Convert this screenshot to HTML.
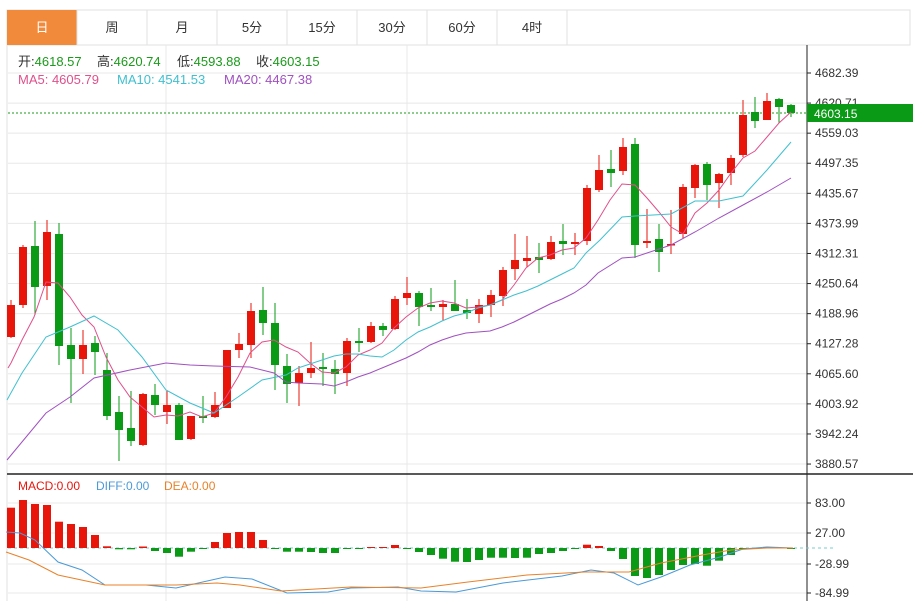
<!DOCTYPE html>
<html><head><meta charset="utf-8"><style>
body{margin:0;background:#fff;width:913px;height:601px;overflow:hidden;font-family:"Liberation Sans","Noto Sans CJK SC",sans-serif}
svg{position:absolute;left:0;top:0}
</style></head><body>
<svg id="s" width="913" height="601" xmlns="http://www.w3.org/2000/svg" font-family="Liberation Sans, Noto Sans CJK SC, sans-serif">
<rect x="7" y="10" width="903" height="35" fill="#fff" stroke="#e2e2e2"/>
<rect x="7" y="10" width="70" height="35" fill="#f28a3c"/>
<g stroke="#e2e2e2"><line x1="147" y1="10" x2="147" y2="45"/><line x1="217" y1="10" x2="217" y2="45"/><line x1="287" y1="10" x2="287" y2="45"/><line x1="357" y1="10" x2="357" y2="45"/><line x1="427" y1="10" x2="427" y2="45"/><line x1="497" y1="10" x2="497" y2="45"/><line x1="567" y1="10" x2="567" y2="45"/><line x1="77" y1="10" x2="77" y2="45"/></g>
<g font-size="13" text-anchor="middle" fill="#333"><text x="42" y="32" fill="#fff">日</text><text x="112" y="32">周</text><text x="182" y="32">月</text><text x="252" y="32">5分</text><text x="322" y="32">15分</text><text x="392" y="32">30分</text><text x="462" y="32">60分</text><text x="532" y="32">4时</text></g>
<line x1="7" y1="45" x2="7" y2="601" stroke="#e2e2e2"/>
<g id="grid" stroke="#e8e8e8"></g>
<g stroke="#e8e8e8"><line x1="166" y1="45" x2="166" y2="601"/><line x1="407" y1="45" x2="407" y2="601"/></g>
<g font-size="13" fill="#333">
<text x="18" y="66">开:<tspan fill="#1a9a1a">4618.57</tspan></text>
<text x="97" y="66">高:<tspan fill="#1a9a1a">4620.74</tspan></text>
<text x="177" y="66">低:<tspan fill="#1a9a1a">4593.88</tspan></text>
<text x="256" y="66">收:<tspan fill="#1a9a1a">4603.15</tspan></text>
<text x="18" y="84" fill="#e0508a">MA5: 4605.79</text>
<text x="117" y="84" fill="#3fc0d0">MA10: 4541.53</text>
<text x="224" y="84" fill="#a050c0">MA20: 4467.38</text></g>
<line x1="807" y1="45" x2="807" y2="601" stroke="#222"/>
<line x1="7" y1="474" x2="913" y2="474" stroke="#222" stroke-width="1.5"/>
<g id="labels" font-size="12" fill="#333"></g>
<line x1="8" y1="113" x2="807" y2="113" stroke="#1a9a1a" stroke-dasharray="2,2"/>
<g id="c"></g>
<g id="ma" fill="none" stroke-width="1"></g>
<rect x="807" y="104" width="106" height="18" fill="#0a9a15"/>
<text x="814" y="118" font-size="12" fill="#fff">4603.15</text>
<g font-size="12"><text x="18" y="490" fill="#e8150b">MACD:0.00</text><text x="96" y="490" fill="#4a9ad8">DIFF:0.00</text><text x="164" y="490" fill="#e8822a">DEA:0.00</text></g>
<line x1="8" y1="548" x2="835" y2="548" stroke="#7cc" stroke-dasharray="3,3"/>
<g id="m"></g>
</svg>
<script>
var NS="http://www.w3.org/2000/svg";
function el(p,t,a){var e=document.createElementNS(NS,t);for(var k in a)e.setAttribute(k,a[k]);document.getElementById(p).appendChild(e);return e;}
var lv=["4682.39","4620.71","4559.03","4497.35","4435.67","4373.99","4312.31","4250.64","4188.96","4127.28","4065.60","4003.92","3942.24","3880.57"];
lv.forEach(function(v,i){var y=73+i*30.08;el("grid","line",{x1:8,y1:y,x2:807,y2:y});el("grid","line",{x1:807,y1:y,x2:811,y2:y,stroke:"#222"});var t=el("labels","text",{x:815,y:y+4});t.textContent=v;});
[[503,"83.00"],[533,"27.00"],[564,"-28.99"],[593,"-84.99"]].forEach(function(a){el("grid","line",{x1:8,y1:a[0],x2:807,y2:a[0]});el("grid","line",{x1:807,y1:a[0],x2:811,y2:a[0],stroke:"#222"});var t=el("labels","text",{x:815,y:a[0]+4});t.textContent=a[1];});
var C=[["r",305,337,300,338],["r",247,305,245,308],["g",246,287,221,315],["r",232,286,220,300],["g",234,346,223,365],["g",345,359,328,403],["r",345,359,330,374],["g",343,352,336,375],["g",370,416,353,420],["g",412,430,396,461],["g",428,441,391,446],["r",394,445,393,446],["g",395,405,384,415],["r",405,412,391,424],["g",405,440,403,440],["r",416,439,416,440],["g",416,418,396,423],["r",405,417,392,418],["r",350,408,350,408],["r",344,350,333,358],["r",311,345,303,358],["g",310,323,287,335],["g",323,365,303,390],["g",366,384,354,403],["r",373,383,366,406],
["r",368,373,342,378],["g",367,369,353,386],["g",369,374,360,394],["r",341,373,338,386],["g",341,343,328,352],["r",326,342,322,343],["g",326,330,323,336],["r",299,329,296,330],["r",293,298,277,305],["g",293,307,291,326],["g",305,307,288,311],["r",304,307,300,321],["g",304,311,280,311],["g",310,313,299,319],["r",305,314,299,323],["r",295,305,290,317],["r",270,296,267,306],["r",260,269,234,280],["r",258,261,236,267],["g",257,260,243,273],["r",242,259,236,260],["g",241,244,224,255],["r",242,244,233,255],["r",188,241,185,245],["r",170,190,155,192],
["g",169,173,150,187],["r",147,171,138,175],["g",144,245,138,258],["r",241,243,209,248],["g",239,252,224,272],["r",244,245,210,254],["r",187,234,184,238],["r",165,188,164,198],["g",164,185,162,200],["r",174,183,173,208],["r",158,173,155,185],["r",115,155,100,157],["g",112,121,97,128],["r",101,120,93,120],["g",99,107,98,123],["g",105,113,104,117]];
C.forEach(function(c,i){var x=11+12*i,col=c[0]=="r"?"#e8150b":"#0a9a15";el("c","line",{x1:x,y1:c[3],x2:x,y2:c[4],stroke:col});el("c","rect",{x:x-4,y:c[1],width:8,height:Math.max(1.5,c[2]-c[1]),fill:col});});
function pl(g,pts,col){el(g,"polyline",{points:pts.map(function(p){return p.join(",")}).join(" "),stroke:col,fill:"none"});}
pl("ma",[[8,368],[11,363],[22,340],[34,317],[46,282],[58,283],[70,297],[82,315],[94,327],[106,357],[118,380],[130,397],[142,407],[154,417],[166,415],[178,416],[190,412],[202,417],[214,413],[226,397],[238,377],[250,353],[262,342],[274,340],[286,347],[298,352],[310,363],[322,372],[334,373],[346,367],[358,355],[370,350],[382,343],[394,328],[406,317],[418,308],[430,303],[442,301],[454,303],[466,308],[478,307],[490,305],[502,300],[514,285],[526,268],[538,258],[550,255],[562,250],[574,248],[586,238],[598,220],[610,200],[622,184],[635,185],[647,198],[659,212],[671,227],[683,234],[695,213],[707,203],[719,190],[731,173],[743,158],[755,151],[767,137],[779,123],[791,112]],"#e0508a");
pl("ma",[[7,400],[22,373],[46,337],[70,327],[94,316],[118,330],[142,357],[166,390],[190,403],[214,413],[238,397],[262,380],[286,375],[298,368],[322,360],[334,356],[346,354],[358,354],[370,356],[382,357],[394,350],[406,340],[418,332],[430,327],[442,321],[454,316],[466,313],[478,308],[490,305],[502,300],[514,295],[526,291],[538,286],[550,280],[562,274],[574,268],[586,253],[600,240],[622,217],[635,216],[671,214],[695,201],[719,201],[743,196],[767,170],[791,142]],"#3fc0d0");
pl("ma",[[7,460],[46,413],[70,397],[94,378],[130,370],[166,363],[190,365],[214,366],[250,367],[274,373],[286,382],[298,383],[322,384],[334,386],[346,382],[358,377],[370,373],[382,368],[394,363],[406,358],[418,352],[430,345],[442,340],[454,336],[466,333],[478,332],[490,331],[502,327],[514,322],[526,316],[538,310],[550,304],[562,299],[574,293],[586,285],[598,273],[622,258],[635,257],[671,245],[695,232],[719,218],[743,205],[767,192],[791,178]],"#a050c0");
var M={0:507.7,1:500,2:504,3:505,4:521.7,5:524,6:527,7:535,8:546.3,9:549.3,10:549.3,11:546.5,12:551,13:553,14:556.7,15:551.7,16:549,17:542,18:533,19:532,20:532,21:540,22:548.6,23:551.7,24:551.7,25:552,26:553,27:553,28:549,29:549,30:547,31:547,32:545,33:548.6,34:552,35:555,36:558.7,37:561.7,38:562,39:560,40:557.7,41:557.7,42:558,43:557.7,44:554,45:553,46:551,47:549,48:544.7,49:546,50:551,51:559,52:576,53:578,54:575,55:570,56:565,57:564,58:565.7,59:560.7,60:555,61:549.5,62:549,63:547,64:547.5,65:548.5};
for(var i=0;i<66;i++){var y=M[i],x=11+12*i,z=548;var col=y<z?"#e8150b":"#0a9a15";el("m","rect",{x:x-4,y:Math.min(y,z),width:8,height:Math.max(1,Math.abs(y-z)),fill:col});}
pl("m",[[6,532],[20,533],[35,540],[58,562],[82,570],[105,585],[146,585],[176,588],[225,577],[252,579],[287,593],[328,592],[351,588],[398,587],[421,591],[456,592],[503,583],[562,576],[591,570],[614,573],[638,585],[661,577],[690,565],[720,557],[743,549],[767,547],[793,548]],"#4a9ad8");
pl("m",[[6,552],[29,560],[58,575],[105,585],[176,585],[217,583],[240,585],[281,591],[351,587],[421,588],[468,582],[527,575],[585,572],[629,572],[661,563],[702,555],[731,550],[767,548],[793,548]],"#e8822a");
</script>
</body></html>
